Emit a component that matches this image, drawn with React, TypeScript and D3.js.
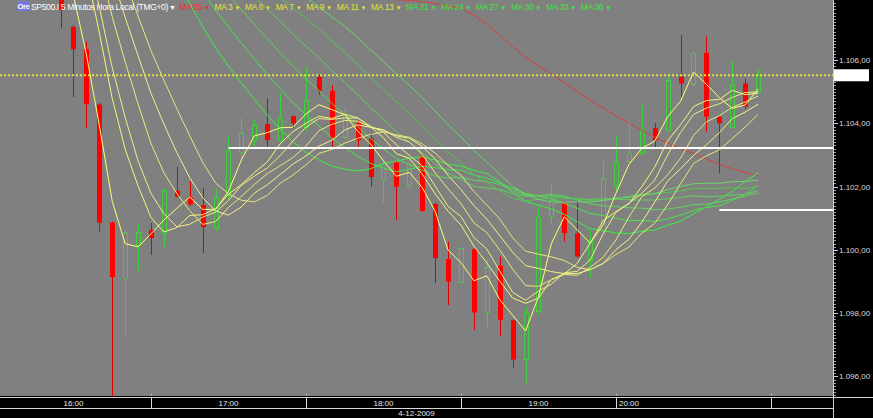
import React from 'react';
import * as d3 from 'd3';

// 5 minute bars of SP500.I, 4-12-2009, first visible bar at 16:25
const firstBarTime = new Date(2009, 11, 4, 16, 25);
const barMinutes = 5;

const opens = [
    1108.6, 1107.05, 1106.34, 1104.6, 1100.86, 1099.11, 1100.16, 1100.63, 1100.54, 1101.87,
    1101.66, 1101.42, 1100.69, 1101.74, 1103.1, 1103.47, 1103.98, 1103.47, 1104.23, 1103.9,
    1105.47, 1105.03, 1103.58, 1104.0, 1103.53, 1102.21, 1102.76, 1102.05, 1102.95, 1101.45,
    1099.71, 1098.97, 1100.02, 1098.05, 1099.5, 1097.77, 1096.53, 1098.05, 1101.07, 1101.48,
    1100.53, 1099.68, 1100.63, 1102.05, 1102.79, 1103.05, 1103.85, 1103.79, 1105.47, 1105.26,
    1106.23, 1104.21, 1103.89, 1105.26, 1105.0,
];
const highs = [
    1109.2, 1107.1, 1106.58, 1104.65, 1100.9, 1100.63, 1100.82, 1100.85, 1101.96, 1102.63,
    1102.16, 1101.95, 1101.96, 1103.6, 1104.17, 1104.13, 1104.79, 1104.95, 1104.25, 1105.79,
    1105.53, 1105.21, 1104.53, 1104.1, 1103.7, 1102.84, 1102.8, 1102.9, 1103.0, 1101.5,
    1100.26, 1100.1, 1100.05, 1099.68, 1099.79, 1097.8, 1098.21, 1101.42, 1102.05, 1101.52,
    1101.53, 1100.63, 1102.79, 1103.58, 1104.05, 1104.58, 1104.01, 1105.53, 1106.79, 1106.28,
    1106.74, 1104.25, 1105.95, 1105.42, 1105.74,
];
const lows = [
    1107.0, 1104.83, 1103.85, 1100.58, 1095.37, 1097.32, 1099.34, 1099.84, 1100.1, 1101.65,
    1101.4, 1099.9, 1100.6, 1101.6, 1102.78, 1103.26, 1103.26, 1103.42, 1103.85, 1103.74,
    1104.9, 1103.26, 1103.47, 1103.26, 1102.0, 1101.48, 1100.95, 1101.9, 1101.2, 1098.95,
    1098.26, 1098.94, 1097.47, 1097.53, 1097.26, 1096.27, 1095.79, 1097.95, 1100.79, 1100.26,
    1099.75, 1099.11, 1100.6, 1101.79, 1102.75, 1103.0, 1103.22, 1103.75, 1104.84, 1105.16,
    1103.74, 1102.42, 1103.84, 1104.45, 1104.95,
];
const closes = [
    1107.58, 1106.34, 1104.61, 1100.86, 1099.14, 1100.58, 1100.57, 1100.37, 1101.89, 1101.68,
    1101.44, 1100.72, 1101.68, 1103.16, 1103.7, 1103.95, 1103.47, 1104.16, 1104.0, 1104.74,
    1105.03, 1103.53, 1104.26, 1103.47, 1102.3, 1102.68, 1102.0, 1102.68, 1101.23, 1099.74,
    1099.0, 1100.05, 1098.02, 1099.47, 1097.79, 1096.53, 1098.0, 1101.03, 1101.58, 1100.53,
    1099.79, 1100.32, 1102.26, 1102.79, 1103.05, 1103.79, 1103.47, 1105.37, 1105.26, 1106.23,
    1104.21, 1104.0, 1105.21, 1104.53, 1105.52,
];

// closes before the visible window (above the top of the chart), needed by the averages
const earlierCloses = [
    1106.2, 1106.5, 1105.9, 1105.6, 1106.0, 1105.4, 1105.1, 1105.5, 1105.0, 1104.6,
    1104.9, 1104.3, 1104.0, 1104.4, 1104.1, 1103.7, 1104.0, 1104.4, 1103.9, 1103.5,
    1103.8, 1103.4, 1103.1, 1103.6, 1103.2,
    1110.5, 1115.0, 1117.0, 1116.3, 1117.1, 1115.7, 1115.4, 1116.0, 1114.9, 1115.3,
    1116.0, 1116.3, 1115.8, 1116.2, 1115.7, 1115.3, 1115.0, 1114.6, 1114.0, 1113.4,
    1112.6, 1111.6, 1110.2,
];

const fastPeriods = [3, 6, 7, 9, 11, 13];
const slowPeriods = [21, 24, 27, 30, 33, 36];
const longPeriod = 55;

const priceTicks = [1096, 1098, 1100, 1102, 1104, 1106];
const hourLabels = ['16:00', '17:00', '18:00', '19:00', '20:00'];
const hourLines = ['17:00', '18:00', '19:00', '20:00', '21:00'];
const dateLabel = '4-12-2009';
const title = 'SP500.I 5 Minutos Hora Local (TMG+0)';

// horizontal lines drawn by hand on the chart
const supportStarts = ['17:30', '20:40'];
const supportPrices = [1103.22, 1101.26];

const fastColors = ['#ffff6e', '#f6f67c', '#eeee84', '#e9e97a', '#f2f28c', '#e6e67e'];
const slowColors = ['#3ef03e', '#4ce44c', '#58d858', '#62d062', '#52c852', '#6cd66c'];

const atTime = (hm: string) => {
    const [h, m] = hm.split(':').map(Number);
    return new Date(2009, 11, 4, h, m);
};

const fmtPrice = (v: number) => {
    const s = v.toFixed(2).replace('.', ',');
    const [int, dec] = s.split(',');
    return int.replace(/\B(?=(\d{3})+(?!\d))/g, '.') + ',' + dec;
};

interface Pt { t: Date; v: number; }

const App: React.FC = () => {
    const width = 873;
    const height = 418;
    const plotW = 833;
    const plotH = 396;
    const font = '"Liberation Sans", Arial, sans-serif';

    const barTime = (k: number) => d3.timeMinute.offset(firstBarTime, k * barMinutes);

    const x = d3
        .scaleTime()
        .domain([new Date(2009, 11, 4, 16, 1, 33), new Date(2009, 11, 4, 21, 24)])
        .range([0, plotW]);
    const y = d3.scaleLinear().domain([1095.38, 1107.9]).range([plotH, 0]);

    const allCloses = [...earlierCloses, ...closes];
    const offset = earlierCloses.length;
    const movingAverage = (n: number): Pt[] => {
        const out: Pt[] = [];
        for (let k = n - 1; k < allCloses.length; k++) {
            out.push({ t: barTime(k - offset), v: d3.mean(allCloses.slice(k - n + 1, k + 1)) as number });
        }
        return out;
    };
    const line = d3
        .line<Pt>()
        .x((d) => x(d.t))
        .y((d) => y(d.v));

    const lastClose = closes[closes.length - 1];
    const yLast = y(lastClose);

    const minorTicks = d3.range(1095.4, 1107.9, 0.1);

    return (
        <svg
            width={width}
            height={height}
            style={{ position: 'fixed', left: 0, top: 0, display: 'block' }}
            fontFamily={font}
        >
            <defs>
                <clipPath id="plot">
                    <rect x={0} y={0} width={plotW} height={plotH} />
                </clipPath>
            </defs>
            <rect x={0} y={0} width={width} height={height} fill="#000" />
            <rect x={0} y={0} width={plotW} height={plotH} fill="#808080" />

            <g clipPath="url(#plot)">
                {/* hour marks at the bottom of the plot */}
                {hourLines.map((h) => (
                    <line key={h} x1={Math.round(x(atTime(h))) + 0.5} x2={Math.round(x(atTime(h))) + 0.5} y1={plotH - 3} y2={plotH} stroke="#a8a8a8" />
                ))}

                {/* candles */}
                {closes.map((c, i) => {
                    const cx = Math.round(x(barTime(i)));
                    const up = c >= opens[i];
                    const col = up ? '#3fcf3f' : '#ff0000';
                    const top = y(Math.max(c, opens[i]));
                    const bot = y(Math.min(c, opens[i]));
                    return (
                        <g key={i}>
                            <line x1={cx + 0.5} x2={cx + 0.5} y1={y(highs[i])} y2={y(lows[i])} stroke={up ? col : '#e00000'} />
                            {up ? (
                                <rect x={cx - 1.5} y={Math.round(top) + 0.5} width={4} height={Math.max(1, Math.round(bot - top))} fill="#808080" stroke={col} />
                            ) : (
                                <rect x={cx - 2} y={top} width={5} height={Math.max(1.5, bot - top)} fill={col} />
                            )}
                        </g>
                    );
                })}

                {/* averages */}
                <path d={line(movingAverage(longPeriod)) || ''} fill="none" stroke="#d84040" strokeWidth={1} />
                {slowPeriods.map((p, j) => (
                    <path key={p} d={line(movingAverage(p)) || ''} fill="none" stroke={slowColors[j]} strokeWidth={1} />
                ))}
                {fastPeriods.map((p, j) => (
                    <path key={p} d={line(movingAverage(p)) || ''} fill="none" stroke={fastColors[j]} strokeWidth={1} />
                ))}

                {/* last price */}
                <line x1={0} x2={plotW} y1={yLast} y2={yLast} stroke="#e4e43c" strokeWidth={2} strokeDasharray="2 2" />

                {/* drawn levels */}
                {supportPrices.map((p, j) => (
                    <line key={p} x1={x(atTime(supportStarts[j]))} x2={plotW} y1={Math.round(y(p))} y2={Math.round(y(p))} stroke="#fff" strokeWidth={2} />
                ))}
            </g>

            {/* price axis */}
            <line x1={plotW + 0.5} x2={plotW + 0.5} y1={0} y2={height} stroke="#d0d0d0" />
            {minorTicks.map((v, i) => (
                <line key={i} x1={plotW + 1} x2={plotW + 3} y1={Math.round(y(v)) + 0.5} y2={Math.round(y(v)) + 0.5} stroke="#a0a0a0" />
            ))}
            {priceTicks.map((v) => (
                <g key={v}>
                    <line x1={plotW + 1} x2={plotW + 5} y1={Math.round(y(v)) + 0.5} y2={Math.round(y(v)) + 0.5} stroke="#d0d0d0" />
                    <text x={plotW + 6} y={y(v) + 3} fontSize={8} fill="#dcdcdc">
                        {fmtPrice(v)}
                    </text>
                </g>
            ))}
            <rect x={plotW + 1} y={yLast - 6} width={35} height={12} fill="#fff" />

            {/* time axis */}
            <line x1={0} x2={width} y1={plotH + 1.5} y2={plotH + 1.5} stroke="#d8d8d8" />
            <line x1={0} x2={plotW} y1={408.5} y2={408.5} stroke="#d8d8d8" />
            {hourLines.map((h) => (
                <line key={h} x1={Math.round(x(atTime(h))) + 0.5} x2={Math.round(x(atTime(h))) + 0.5} y1={plotH + 1} y2={408} stroke="#d8d8d8" />
            ))}
            {hourLabels.map((h, i) => {
                const start = x(atTime(h));
                const end = x(d3.timeHour.offset(atTime(h), 1));
                const last = i === hourLabels.length - 1;
                return (
                    <text
                        key={h}
                        x={last ? start + 3 : (start + end) / 2}
                        y={406}
                        fontSize={8}
                        fill="#e8e8e8"
                        textAnchor={last ? 'start' : 'middle'}
                    >
                        {h}
                    </text>
                );
            })}
            <text x={plotW / 2} y={416} fontSize={8} fill="#e8e8e8" textAnchor="middle">
                {dateLabel}
            </text>

            {/* header */}
            <rect x={17} y={1} width={13} height={10} rx={2} fill="#7676e0" />
            <text x={17.5} y={9} fontSize={7.5} fontWeight="bold" fill="#ffffff" letterSpacing={-0.4}>
                Ore
            </text>
            <text x={31} y={10} fontSize={8.5} letterSpacing={-0.35}>
                <tspan fill="#ffffff">{title}</tspan>
                <tspan fill="#ffffff" fontSize={7} dx={1}>▼</tspan>
                <tspan fill="#ff2a2a" dx={4}>{`MA ${longPeriod}`}</tspan>
                <tspan fill="#ff2a2a" fontSize={6} dx={2}>▼</tspan>
                {fastPeriods.map((p) => (
                    <React.Fragment key={p}>
                        <tspan fill="#e4e430" dx={5}>{`MA ${p}`}</tspan>
                        <tspan fill="#e4e430" fontSize={6} dx={2}>▼</tspan>
                    </React.Fragment>
                ))}
                {slowPeriods.map((p) => (
                    <React.Fragment key={p}>
                        <tspan fill="#3ce63c" dx={5}>{`MA ${p}`}</tspan>
                        <tspan fill="#3ce63c" fontSize={6} dx={2}>▼</tspan>
                    </React.Fragment>
                ))}
            </text>
        </svg>
    );
};

export default App;
